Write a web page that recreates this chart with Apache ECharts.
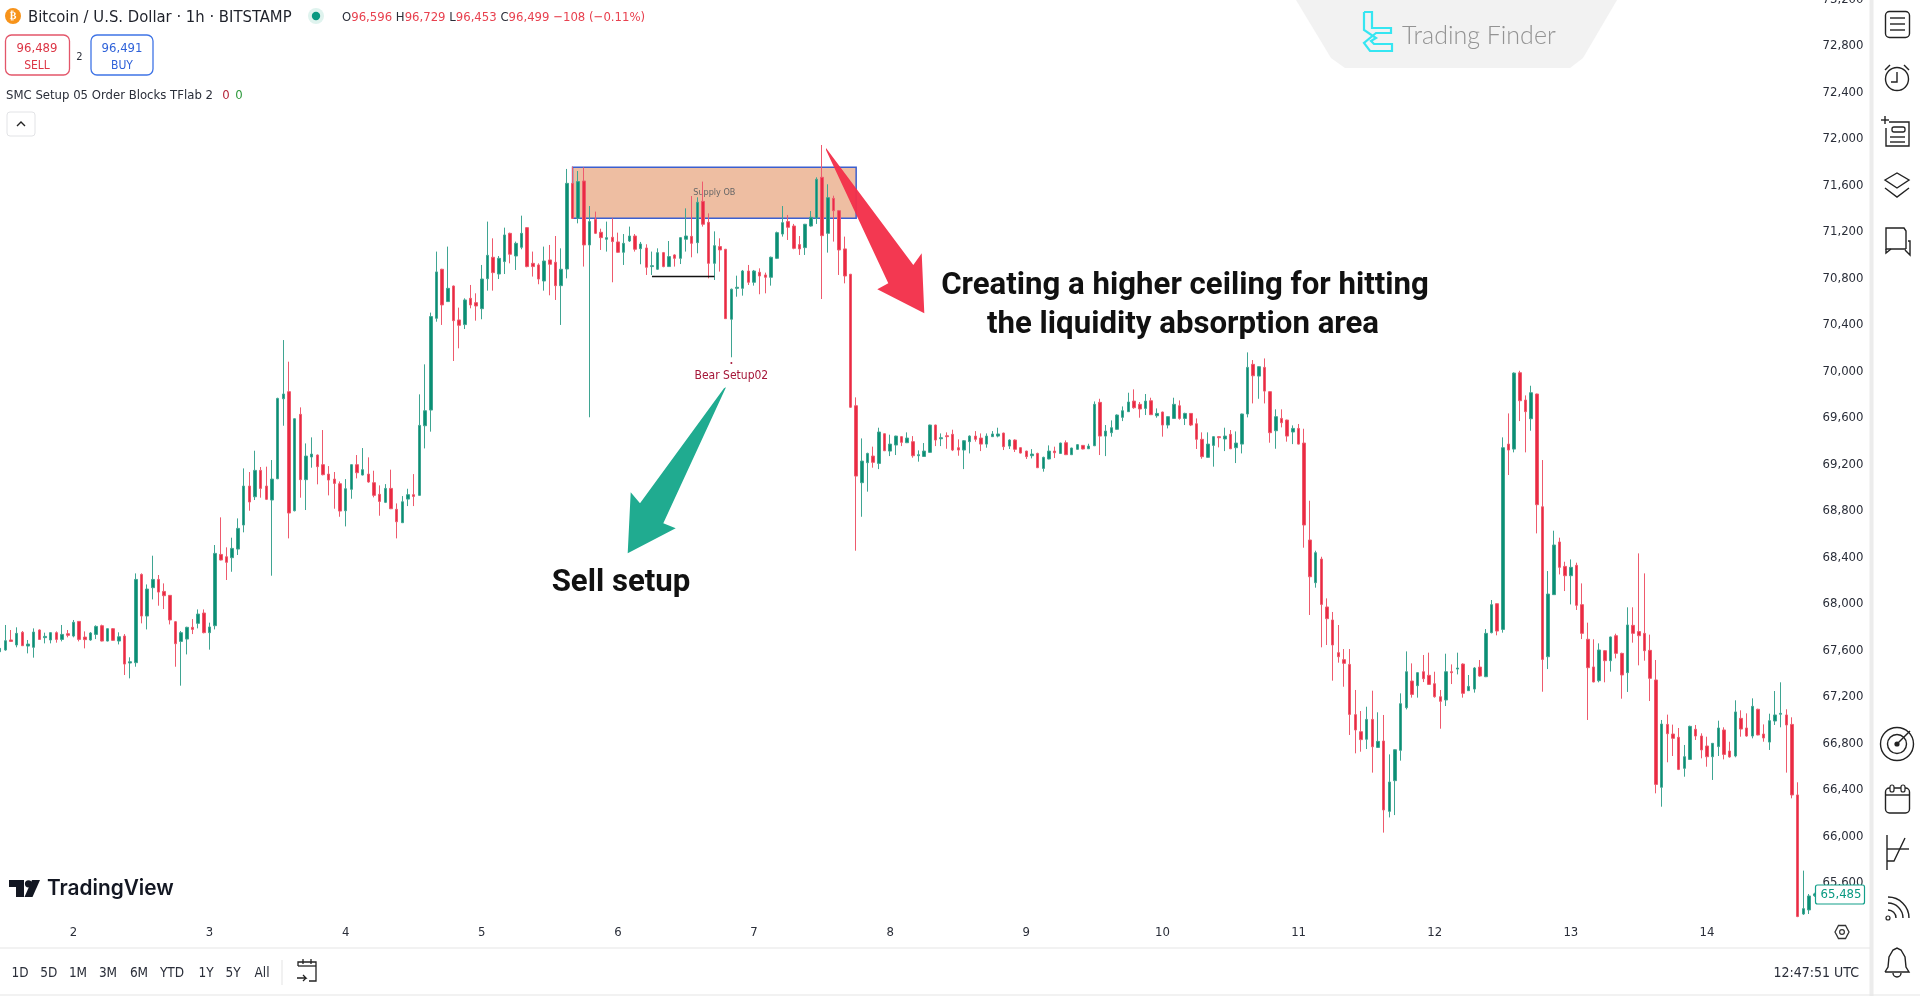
<!DOCTYPE html>
<html>
<head>
<meta charset="utf-8">
<style>html,body{margin:0;padding:0;background:#fff;overflow:hidden}#c{width:1920px;height:996px}</style>
<script src="https://cdn.jsdelivr.net/npm/echarts@6/dist/echarts.min.js"></script>
</head>
<body>
<div id="c"></div>
<script>
const opens=[67568,67583,67669,67626,67735,67617,67606,67755,67689,67669,
67732,67674,67723,67703,67829,67694,67669,67717,67792,67660,
67766,67660,67703,67471,67474,68233,67875,68119,68190,68087,
68053,67826,67657,67677,67778,67812,67901,67732,67792,68405,
68385,68377,68451,68658,68993,68901,69128,68993,68873,69056,
69744,69805,68781,69610,69048,69243,69260,69177,69096,69053,
69013,68781,68965,69177,69088,69096,69022,68922,68853,68973,
68793,68678,68881,68919,68913,69512,69647,70436,70858,70580,
70714,70422,70382,70608,70571,70519,70777,70961,70817,70924,
71167,70972,71047,71216,70909,70895,70757,70938,70918,70717,
70860,71597,71296,71617,71067,71288,71176,71116,71133,71093,
71004,71101,71144,71035,71041,70881,70858,71001,70881,70981,
70952,71116,71141,71087,71442,71262,70909,71053,71030,70428,
70694,70694,70843,70746,70832,70809,70789,70952,71161,71268,
71230,71070,71044,71230,71296,71649,71167,71468,71362,71033,
70815,69684,69022,69194,69251,69188,69443,69294,69346,69418,
69366,69375,69254,69248,69283,69518,69400,69426,69438,69323,
69303,69375,69423,69406,69354,69418,69423,69449,69337,69389,
69323,69294,69254,69274,69145,69226,69294,69274,69366,69263,
69309,69343,69314,69340,69713,69423,69452,69481,69584,69633,
69724,69696,69661,69727,69598,69630,69518,69575,69684,69575,
69618,69529,69395,69240,69343,69418,69398,69438,69323,69354,
69613,70040,69939,70014,69805,69469,69575,69561,69458,69489,
69363,68529,68162,68365,67953,67841,67560,67500,67459,67027,
66880,66815,66986,66745,66800,66195,66459,66720,67087,67316,
67276,67396,67365,67293,67181,67153,67396,67419,67462,67233,
67247,67436,67353,67732,67981,67760,69354,69311,69968,69733,
69572,69785,68815,67525,68059,68512,68302,68222,68311,67973,
67675,67437,67319,67577,67491,67706,67554,67388,67795,67741,
67726,67580,67325,66402,66943,66860,66832,66565,66642,66901,
66843,66757,66665,66752,66895,66714,66671,66995,66912,66843,
67073,66860,66791,66972,67030,67024,66943,66336,65312,65347,65470];
const closes=[67597,67663,67657,67726,67620,67634,67737,67674,67700,67732,
67674,67717,67709,67821,67674,67672,67729,67786,67660,67766,
67666,67697,67462,67482,68190,67875,68107,68190,68081,68050,
67841,67637,67732,67778,67760,67892,67732,67781,68414,68357,
68337,68457,68629,68993,68856,69128,68973,68879,69053,69747,
69785,68761,69572,69048,69251,69268,69160,69091,69045,69016,
68778,68970,69177,69108,69134,69028,68913,68861,68973,68798,
68686,68858,68919,68904,69515,69641,70451,70835,70551,70694,
70416,70376,70594,70551,70542,70774,70978,70829,70952,71153,
70987,71081,71167,70881,70881,70774,70929,70901,70717,70858,
71597,71296,71612,71067,71268,71167,71130,71130,71096,71004,
71081,71144,71030,71075,70875,70889,71001,70881,70967,70952,
71130,71144,71081,71434,71245,70909,71061,71024,70433,70686,
70703,70843,70746,70843,70800,70789,70961,71173,71259,71219,
71038,71033,71245,71305,71632,71147,71474,71362,71024,70800,
69671,69079,69208,69274,69197,69458,69297,69354,69423,69369,
69406,69254,69263,69294,69518,69389,69409,69418,69303,69303,
69383,69423,69395,69354,69423,69441,69441,69332,69389,69309,
69277,69246,69268,69151,69240,69294,69280,69363,69263,69320,
69349,69312,69337,69696,69423,69466,69495,69604,69641,69716,
69667,69656,69724,69607,69618,69518,69590,69696,69575,69618,
69518,69395,69246,69354,69418,69409,69423,69314,69363,69613,
70014,69942,70020,69810,69452,69590,69538,69423,69489,69354,
68658,68213,68420,67975,67852,67626,67525,67468,67029,66895,
66812,66986,66751,66797,66207,66447,66725,67121,67396,67201,
67388,67336,67287,67181,67141,67396,67388,67428,67210,67270,
67428,67359,67726,67973,67746,69323,69303,69965,69727,69633,
69796,68833,67502,68064,68486,68294,68222,68294,67967,67726,
67431,67308,67583,67491,67695,67554,67368,67798,67726,67706,
67577,67339,66427,66946,66863,66823,66556,66665,66926,66843,
66723,66665,66780,66912,66685,66663,67050,66903,66843,67098,
66852,66826,66975,67024,67038,66938,66336,65290,65358,65467,65485];
const lows=[67554,67577,67654,67606,67617,67554,67517,67669,67640,67640,
67646,67657,67692,67692,67657,67597,67663,67677,67657,67657,
67663,67631,67368,67339,67439,67812,67760,68018,67964,67935,
67803,67439,67276,67545,67720,67769,67726,67586,67760,68354,
68185,68256,68400,68595,68781,68873,68893,68873,68222,69053,
69512,68543,68775,68893,68787,69151,69008,69085,68913,68798,
68729,68646,68884,69059,69085,69022,68896,68738,68847,68795,
68543,68675,68821,68821,68910,69317,69461,70407,70379,70577,
70069,70178,70344,70522,70416,70428,70674,70674,70774,70817,
70909,70852,71030,70875,70795,70729,70674,70634,70594,70379,
70780,71293,71253,70881,69585,71161,71024,71010,70746,71001,
70895,71093,71010,70901,70809,70809,70852,70875,70878,70881,
70903,71010,70961,70995,71225,70780,70766,70838,70430,70101,
70622,70631,70723,70717,70643,70651,70717,70946,71139,71110,
71030,70981,70981,71225,71248,70602,71001,71096,70809,70737,
69665,68437,68729,68945,69151,69139,69294,69251,69260,69337,
69363,69237,69203,69245,69280,69337,69337,69314,69294,69254,
69139,69274,69375,69294,69323,69415,69412,69303,69312,69286,
69274,69226,69231,69148,69117,69223,69234,69271,69260,69260,
69306,69309,69312,69337,69260,69251,69418,69478,69552,69630,
69658,69581,69604,69604,69581,69418,69489,69572,69564,69518,
69509,69312,69228,69237,69160,69326,69294,69311,69191,69274,
69584,69704,69744,69704,69366,69314,69498,69375,69354,69351,
68463,67884,68119,67606,67626,67319,67474,67267,66852,66694,
66708,66731,66528,66742,66012,66143,66163,66631,67072,67173,
67173,67307,67284,67173,66906,67101,67290,67373,67173,67230,
67216,67353,67350,67726,67709,67732,69088,69283,69552,69283,
69469,68586,67224,67419,68056,68233,68090,67975,67927,67677,
66981,67305,67305,67305,67397,67511,67164,67222,67646,67451,
67491,67144,66350,66235,66617,66671,66550,66493,66637,66809,
66651,66579,66465,66671,66642,66657,66660,66837,66837,66823,
66849,66794,66723,66938,66918,66528,66307,65285,65304,65312,65460];
const highs=[67625,67798,67755,67778,67746,67669,67769,67760,67732,67737,
67743,67798,67755,67841,67832,67743,67737,67795,67801,67769,
67772,67735,67720,67520,68242,68242,68147,68394,68228,68156,
68056,67832,67746,67783,67849,67932,67932,67818,68486,68724,
68466,68549,68715,69145,69114,69297,69157,69160,69217,69753,
70249,70063,69575,69670,69360,69412,69265,69475,69165,69114,
69033,69053,69180,69260,69320,69240,69125,68999,69010,69134,
68844,68907,68970,69096,69782,70040,70485,71010,70862,71053,
70718,70528,70608,70723,70651,70895,71268,71124,70972,71216,
71173,71096,71319,71220,71010,70909,71053,71067,71144,71038,
71721,71741,71703,71735,71402,71354,71207,71268,71296,71173,
71161,71225,71161,71093,71073,71010,71038,71007,71101,70987,
71133,71382,71488,71477,71612,71339,71184,71124,71033,70692,
70803,70852,70895,70852,70866,70829,70967,71182,71402,71325,
71248,71144,71248,71359,71649,71927,71589,71491,71368,71139,
70818,69756,69403,69280,69332,69495,69446,69435,69426,69423,
69455,69423,69300,69363,69521,69521,69446,69455,69478,69395,
69389,69429,69466,69446,69446,69466,69495,69452,69395,69395,
69326,69297,69311,69280,69246,69343,69332,69366,69386,69323,
69354,69346,69357,69721,69744,69518,69558,69610,69678,69796,
69825,69716,69785,69753,69661,69633,69593,69753,69730,69624,
69621,69575,69455,69455,69421,69423,69495,69475,69463,69616,
70143,70077,70025,70091,69808,69653,69653,69564,69515,69527,
69486,68867,68437,68385,68027,67910,67798,67591,67591,67239,
67058,67095,67233,67047,67024,66685,66728,67210,67571,67468,
67391,67540,67560,67396,67239,67551,67459,67560,67468,67368,
67436,67497,67763,68013,67984,69412,69618,69971,69985,69773,
69856,69788,69217,68262,68609,68549,68342,68362,68334,68156,
67818,67675,67640,67583,67698,67723,67560,67950,67950,68414,
68242,67715,67497,66981,67027,66941,66912,66766,66932,66938,
66866,66837,66783,66975,66918,66794,67150,67064,67038,67167,
67078,66943,67035,67230,67305,67073,67004,66445,65685,65484,65495];
const dayLabels=['2','3','4','5','6','7','8','9','10','11','12','13','14'];
const priceTicks=[65600,66000,66400,66800,67200,67600,68000,68400,68800,69200,69600,70000,70400,70800,71200,71600,72000,72400,72800,73200];
const rangeButtons=['1D','5D','1M','3M','6M','YTD','1Y','5Y','All'];
const rangeX=[20,48.7,78,108,139,172,206,233,262];
const supplyZone=[71735,71296];
const bearLevel=70800;
const bearSignal=70052;
const lastPrice=65485;

const firstDayBar=13, barsPerDay=24;
const categories=opens.map((_,i)=>{const k=(i-firstDayBar)/barsPerDay;return Number.isInteger(k)&&dayLabels[k]?dayLabels[k]:'';});
const candles=opens.map((o,i)=>[o,closes[i],lows[i],highs[i]]);

const NARROW='"DejaVu Sans Condensed","Liberation Sans",sans-serif';
const INK='#2a2e39';
const T=(x,y,text,font,fill,align,extra)=>Object.assign({type:'text',z:50,silent:true,style:{x,y,text,font,fill:fill||INK,align:align||'left',verticalAlign:'middle'}},extra||{});
const L=(pts,stroke,w)=>({type:'polyline',z:50,silent:true,shape:{points:pts},style:{stroke:stroke||'#222',fill:null,lineWidth:w||1.4}});
const P=(pts,fill,op)=>({type:'polygon',z:60,silent:true,shape:{points:pts},style:{fill,opacity:op==null?1:op}});
const C=(cx,cy,r,stroke,fill,w)=>({type:'circle',z:50,silent:true,shape:{cx,cy,r},style:{stroke:stroke||null,fill:fill||null,lineWidth:w||1.4}});
const R=(x,y,width,height,r,stroke,fill,w)=>({type:'rect',z:50,silent:true,shape:{x,y,width,height,r:r||0},style:{stroke:stroke||null,fill:fill||null,lineWidth:w||1}});
const A=(cx,cy,r,a0,a1,stroke,w)=>({type:'arc',z:50,silent:true,shape:{cx,cy,r,startAngle:a0,endAngle:a1,clockwise:true},style:{stroke:stroke||'#222',fill:null,lineWidth:w||1.4}});

const g=[];
// panes
g.push(R(1870,0,50,996,0,null,'#ffffff'));
g.push(R(1869.5,0,4,996,0,null,'#ececec'));
g.push(L([[0,948],[1870,948]],'#e6e6e6',1.2));
g.push(L([[0,995],[1920,995]],'#e6e6e6',1.2));
// header
g.push(C(13,16,8,null,'#f7931a'));
g.push(T(13,16,'₿','bold 10px "DejaVu Sans"','#fff','center'));
g.push(T(28,18,'Bitcoin / U.S. Dollar · 1h · BITSTAMP','16.5px '+NARROW,'#1f222b'));
g.push(C(316,16,8,null,'#dff3ee'));
g.push(C(316,16,4.2,null,'#089981'));
g.push({type:'text',z:50,silent:true,style:{x:342,y:18,verticalAlign:'middle',font:'13px '+NARROW,
 text:'{k|O}{v|96,596} {k|H}{v|96,729} {k|L}{v|96,453} {k|C}{v|96,499} {v|−108 (−0.11%)}',
 rich:{k:{fill:'#2a2e39',font:'13px '+NARROW},v:{fill:'#e8414f',font:'13px '+NARROW}}}});
// sell / buy
g.push(R(5.5,35,64,40,6,'#e3566a','#fff',1.3));
g.push(T(37,49,'96,489','13px '+NARROW,'#dc3545','center'));
g.push(T(37,66,'SELL','12px '+NARROW,'#dc3545','center'));
g.push(T(79.5,57,'2','11px '+NARROW,'#2a2e39','center'));
g.push(R(91,35,62,40,6,'#3f74e6','#fff',1.3));
g.push(T(122,49,'96,491','13px '+NARROW,'#2f62d9','center'));
g.push(T(122,66,'BUY','12px '+NARROW,'#2f62d9','center'));
// indicator row
g.push(T(6,96,'SMC Setup 05 Order Blocks TFlab 2','13px '+NARROW,'#2a2e39'));
g.push(T(226,96,'0','13px '+NARROW,'#b5263a','center'));
g.push(T(239,96,'0','13px '+NARROW,'#2e9a3c','center'));
g.push(R(7,112,28,24,3,'#e2e3e6','#fff',1));
g.push(L([[17,126],[21,122],[25,126]],'#222',1.4));
// Trading Finder badge
g.push({type:'polygon',z:40,silent:true,shape:{points:[[1296,0],[1617,0],[1583,58],[1570,68],[1345,68],[1331,58]]},style:{fill:'#f2f2f2'}});
g.push(L([[1364,12],[1372,12],[1372,28],[1391,28],[1391,33],[1376,33],[1364,43],[1370,51],[1392,51],[1392,44],[1374,44],[1371,41],[1376,38],[1364,30],[1364,12]],'#35e6f2',2.2));
g.push(T(1402,36,'Trading Finder','300 25px Lato,"Open Sans",sans-serif','#939393'));
// TradingView logo
g.push(P([[9,880],[24,880],[24,897],[16,897],[16,887],[9,887]],'#131722'));
g.push(C(28.5,883.8,3.6,null,'#131722'));
g.push(P([[32,880],[40,880],[32.5,897],[24.5,897]],'#131722'));
g.push(T(47,889,'TradingView','600 20.8px Inter,Roboto,sans-serif','#131722'));
// range bar
rangeButtons.forEach((t,i)=>g.push(T(rangeX[i],973,t,'13.5px '+NARROW,'#2a2e39','center')));
g.push(L([[282,960],[282,985]],'#e3e3e3',1));
g.push(L([[298,966],[298,962],[316,962],[316,981],[309,981]],'#222',1.3));
g.push(L([[298,966],[316,966]],'#222',1.3));
g.push(L([[303,959],[303,964]],'#222',1.3));
g.push(L([[311,959],[311,964]],'#222',1.3));
g.push(L([[297,978],[306,978],[303,975]],'#222',1.3));
g.push(L([[306,978],[303,981]],'#222',1.3));
g.push(T(1859,973,'12:47:51 UTC','14px '+NARROW,'#2a2e39','right'));
// gear
g.push({type:'polygon',z:50,silent:true,shape:{points:[[1835,932],[1838.5,925.5],[1845.5,925.5],[1849,932],[1845.5,938.5],[1838.5,938.5]]},style:{stroke:'#333',fill:null,lineWidth:1.3}});
g.push(C(1842,932,2.4,'#333',null,1.2));
// sidebar icons
g.push(R(1885.5,11.5,24,26,4,'#222',null,1.4));
[18,24,30].forEach(y=>g.push(L([[1890,y],[1905,y]])));
g.push(C(1897,79,11.5,'#222'));
g.push(L([[1897,72],[1897,82],[1891,82]]));
g.push(L([[1885,70],[1890,65]]));g.push(L([[1909,70],[1904,65]]));
g.push(L([[1889,122],[1909,122],[1909,146],[1886,146],[1886,128]]));
g.push(L([[1881,120],[1889,120]]));g.push(L([[1885,116],[1885,124]]));
g.push(R(1892,127,13,5,2,'#222',null,1.3));
[137,142].forEach(y=>g.push(L([[1890,y],[1905,y]])));
g.push({type:'polygon',z:50,silent:true,shape:{points:[[1885,180],[1897,173],[1909,180],[1897,188]]},style:{stroke:'#222',fill:null,lineWidth:1.4}});
g.push(L([[1885,188],[1897,197],[1909,188]]));
g.push(L([[1906,249],[1886,249],[1886,228],[1904,228],[1906,231],[1906,249]]));
g.push(L([[1886,249],[1886,253],[1891,249]]));
g.push(L([[1908,241],[1910,241],[1910,255],[1905,250]]));
g.push(C(1897,744,16.5,'#222'));g.push(C(1897,744,9.5,'#222'));g.push(C(1897,744,2.6,null,'#222'));
g.push(L([[1897,744],[1910,731]]));
g.push(R(1885.5,788,24,25,4,'#222',null,1.4));
g.push(L([[1885.5,795],[1909.5,795]]));
g.push(R(1890,785,4,7,2,'#222','#fff',1.2));g.push(R(1901,785,4,7,2,'#222','#fff',1.2));
g.push(L([[1887,835],[1887,870]]));g.push(L([[1887,849],[1909,849]]));
g.push(L([[1887,861],[1894,861],[1905,838]]));
g.push(C(1888,918,2,'#222',null,1.2));
g.push(A(1888,918,8,-Math.PI/2,0));g.push(A(1888,918,15,-Math.PI/2,0));g.push(A(1888,918,21,-Math.PI/2,0));
g.push(L([[1885,972],[1888,967],[1889,957],[1893,950],[1897,948],[1901,950],[1905,957],[1906,967],[1909,972],[1885,972]]));
g.push(A(1897,973,4,0,Math.PI));
// last price tag
g.push(R(1815.5,885,49,19,2,'#12a08a','#ffffff',1.2));
g.push(T(1841,895,lastPrice.toLocaleString('en-US'),'13px '+NARROW,'#089981','center'));
// callouts
g.push(P([[826,148],[913.3,265],[921.7,253.3],[924.3,313.3],[877.3,289.3],[888.3,283.3],[826,150]],'#f2304a',0.96));
g.push(P([[726,387.3],[663.3,523.3],[675.7,528.3],[627.7,553.3],[630.7,492.3],[640,503.3],[724,388.3]],'#20ab90'));
g.push(T(1185,286,'Creating a higher ceiling for hitting','700 31.2px Roboto,sans-serif','#111','center'));
g.push(T(1183,325,'the liquidity absorption area','700 31.2px Roboto,sans-serif','#111','center'));
g.push(T(621,583,'Sell setup','700 31.2px Roboto,sans-serif','#111','center'));

const chart=echarts.init(document.getElementById('c'),null,{renderer:'canvas'});
chart.setOption({
 animation:false,
 backgroundColor:'#ffffff',
 grid:{left:-3.14,top:-3,width:1820.7,height:917,containLabel:false,outerBoundsMode:'none'},
 tooltip:{show:false},
 xAxis:{type:'category',data:categories,boundaryGap:true,
  axisLine:{show:false},axisTick:{show:false},splitLine:{show:false},
  axisLabel:{interval:(i,v)=>v!=='',margin:12,color:'#2a2e39',fontFamily:NARROW,fontSize:13}},
 yAxis:{type:'value',position:'right',min:65312,max:73200,scale:true,
  axisLine:{show:false},axisTick:{show:false},splitLine:{show:false},
  axisLabel:{customValues:priceTicks,margin:5,color:'#2a2e39',fontFamily:NARROW,fontSize:13,verticalAlign:'top',lineHeight:5,
   formatter:v=>Number(v).toLocaleString('en-US'),showMinLabel:true,showMaxLabel:true}},
 series:[{type:'candlestick',data:candles,barWidth:3,
  itemStyle:{color:'#0a8f74',color0:'#ea2a42',borderColor:'#3fa592',borderColor0:'#ee5a6d',borderWidth:1},
  markArea:{silent:true,
   itemStyle:{color:'rgba(222,130,76,0.52)',borderColor:'#3b5fcf',borderWidth:1.5},
   label:{show:true,position:'inside',formatter:'Supply OB',color:'#666',fontSize:9,fontFamily:NARROW},
   data:[[{coord:[101,supplyZone[0]]},{coord:[151,supplyZone[1]]}]]},
  markLine:{silent:true,symbol:'none',animation:false,label:{show:false},
   lineStyle:{color:'#111',width:1.3,type:'solid'},
   data:[[{coord:[115,bearLevel]},{coord:[126,bearLevel]}]]},
  markPoint:{silent:true,symbol:'circle',symbolSize:2,
   itemStyle:{color:'#a51638'},
   label:{show:true,position:'bottom',distance:6,formatter:'Bear Setup02',color:'#a51638',fontSize:12,fontFamily:NARROW},
   data:[{coord:[129,bearSignal]}]}
 }],
 graphic:{elements:g}
});
</script>
</body>
</html>
